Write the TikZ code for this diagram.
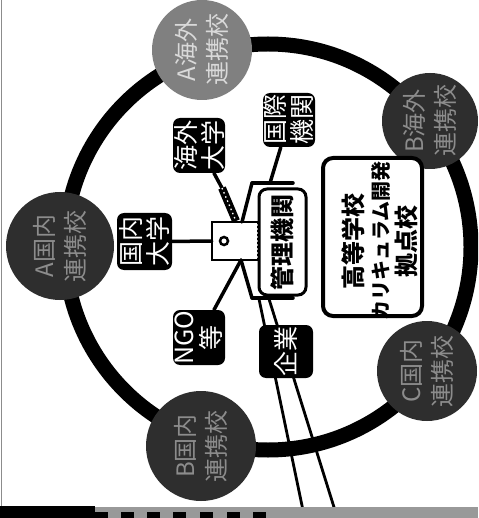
\documentclass[tikz,border=0pt]{standalone}
\usepackage{fontspec}
\newfontfamily\cjk{Noto Sans CJK JP}
\tikzset{
  blk/.style={fill=black, rounded corners=7pt, text=white, align=center,
    inner sep=0pt, rotate=90, font=\cjk\fontsize{25}{27}\selectfont},
  wbox/.style={fill=white, draw=black, rounded corners=8pt, align=center,
    inner sep=0pt, rotate=90},
  lbl/.style={rotate=90, inner sep=0pt, font=\cjk\bfseries\fontsize{24}{26}\selectfont},
  photo/.style={circle, fill=black!82, text=black!45, align=center, inner sep=0pt,
    rotate=90, font=\cjk\fontsize{24}{31}\selectfont},
  conn/.style={line width=3.5pt, line cap=round},
  ringline/.style={line width=15pt}
}
\begin{document}
\begin{tikzpicture}[x=1pt,y=-1pt]
\useasboundingbox (0,0) rectangle (478,518);
\clip (0,0) rectangle (478,518);
\fill[white] (0,0) rectangle (478,518);
% ring
\draw[ringline] (268,247) circle (203pt);
% photo circles
\node[photo, minimum size=100pt, fill=black!50, text=white!85!black] (cA) at (202,50) {A海外\\連携校};
\node[photo, minimum size=96pt] (cB) at (430,121) {B海外\\連携校};
\node[photo, minimum size=100pt] (cC) at (427,371) {C国内\\連携校};
\node[photo, minimum size=110pt] (cD) at (201,446) {B国内\\連携校};
\node[photo, minimum size=108pt] (cE) at (60,246) {A国内\\連携校};
% boxes
\node[blk, minimum width=55pt, minimum height=52pt] (kaigai) at (199,145.5) {海外\\大学};
\node[blk, minimum width=54pt, minimum height=52pt] (kokusai) at (289,120) {国際\\機関};
\node[blk, minimum width=57pt, minimum height=55pt] (kokunai) at (144.5,241.5) {国内\\大学};
\node[blk, minimum width=55pt, minimum height=52pt] (ngo) at (199,337.5) {NGO\\等};
% small device
\node[minimum width=46pt, minimum height=38pt, inner sep=0pt] (proj) at (235,241) {};
\draw[line width=2.5pt] (proj.north east) -- (proj.north west) -- (proj.south west) -- (proj.south east);
\draw[line width=2pt, dotted] (proj.north east) -- (proj.south east);
\draw[line width=2.5pt] (224,241) circle (4pt);
% coordinates
\coordinate (tb1) at (252,183);
\coordinate (tb2) at (293,183);
\coordinate (tbk) at (270,183);
\coordinate (bb1) at (252,298);
\coordinate (bb2) at (293,298);
\coordinate (pt) at (242,222);
\coordinate (pb) at (241,260);
\coordinate (kb1) at (222,188);
\coordinate (kb2) at (236,221);
\coordinate (d1s) at (259,299);
\coordinate (d1e) at (305,520);
\coordinate (d2s) at (269,299);
\coordinate (d2e) at (338,520);
% connectors
\draw[conn] (kokunai) -- (proj);
\draw[conn] (kokusai) -- (tbk);
\draw[conn] (tb1) -- (tb2);
\draw[conn] (tb1) -- (pt);
\draw[conn] (pb) -- (bb1);
\draw[conn] (bb1) -- (bb2);
\draw[conn] (pb) -- (ngo);
\draw[conn] (kaigai) -- (kb1);
\draw[line width=8pt] (kb1) -- (kb2);
\draw[white, line width=1.3pt, dash pattern=on 1.5pt off 3pt] (kb1) -- (kb2);
\draw[line width=2.8pt] (d1s) -- (d1e);
\draw[line width=2.8pt] (d2s) -- (d2e);
% boxes on top of lines
\node[blk, minimum width=53pt, minimum height=54pt] (kigyo) at (286,351.5) {企業};
\node[wbox, line width=3pt, minimum width=106pt, minimum height=47pt,
  font=\cjk\bfseries\fontsize{24}{26}\selectfont] (kanri) at (282.5,242) {管理機関};
\node[wbox, line width=4pt, rounded corners=10pt, minimum width=158pt, minimum height=99pt] (kyoten) at (372.5,237) {};
\node[lbl] (ky1) at (353,241) {高等学校};
\node[lbl, font=\cjk\bfseries\fontsize{20}{22}\selectfont] (ky2) at (381,241) {カリキュラム開発};
\node[lbl] (ky3) at (406,241) {拠点校};
% scan edge
\draw[black!45, line width=1pt] (1,0) -- (1,518);
\fill[black] (0,506) rectangle (95,518);
\fill[black!40] (95,507) rectangle (478,518);
\foreach \x in {95,121,147,173,200,227,253} \fill[black] (\x,512) rectangle ({\x+13},518);
\end{tikzpicture}
\end{document}
